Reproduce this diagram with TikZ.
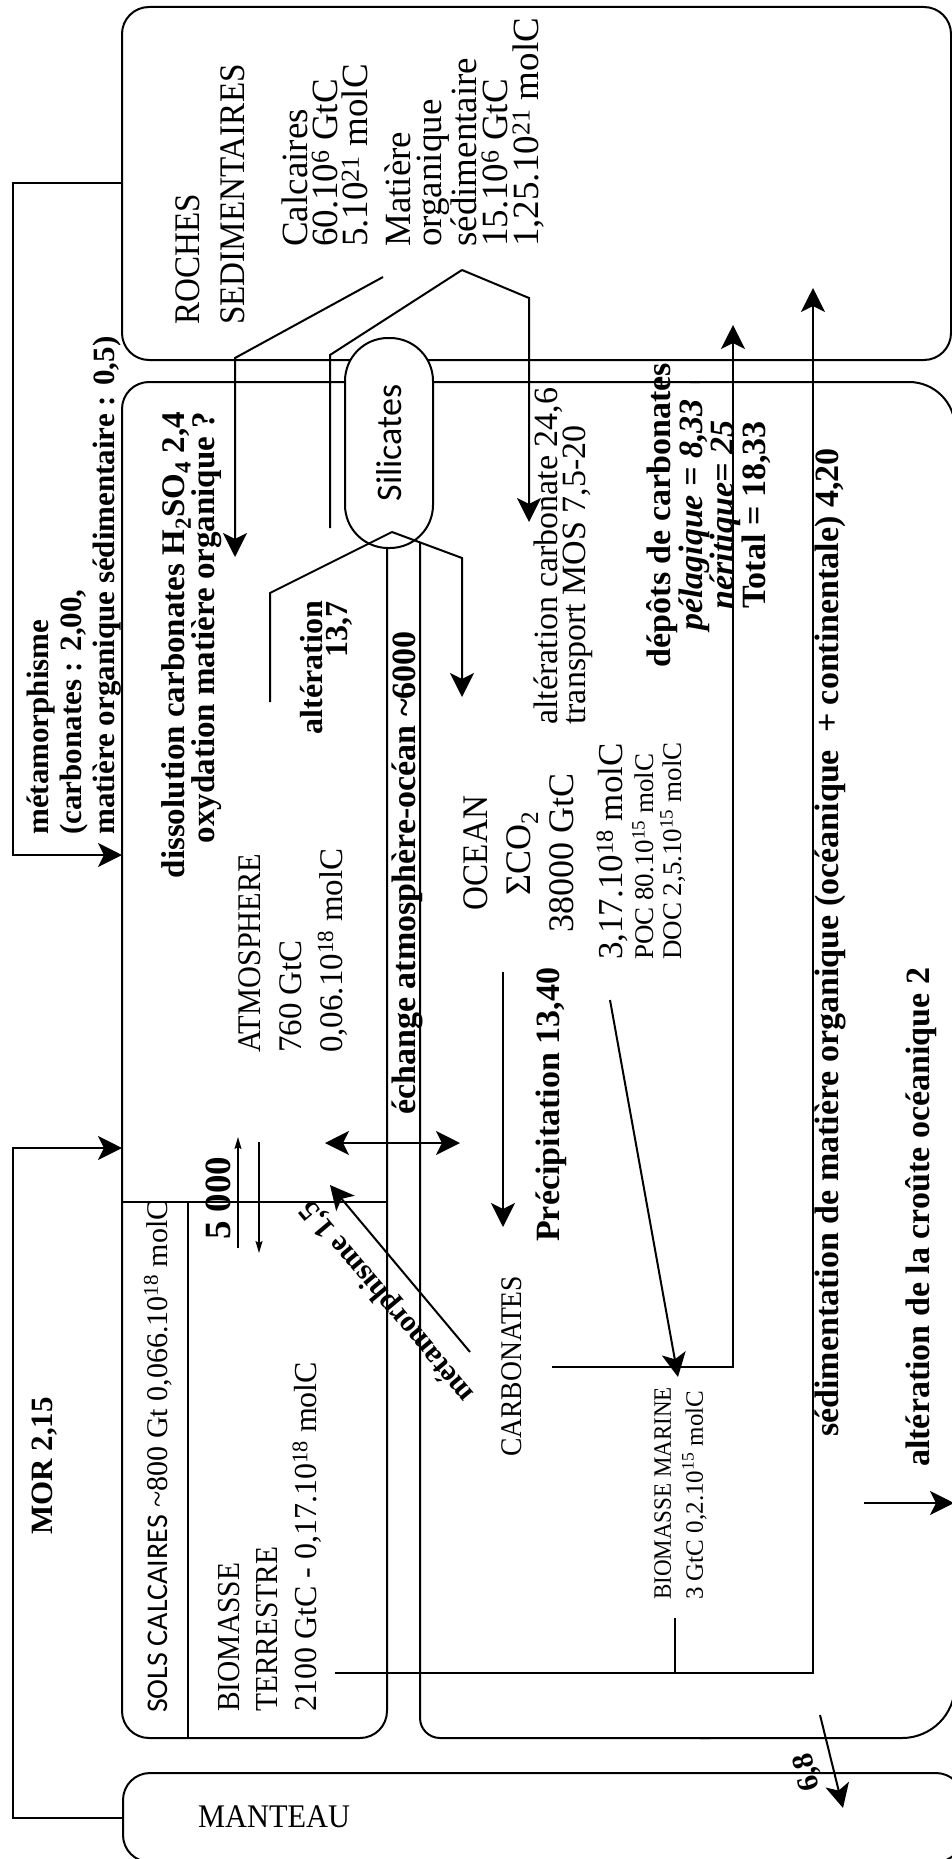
\documentclass[tikz,border=0pt]{standalone}
\usepackage{fontspec}
\setmainfont{Liberation Serif}
\newfontfamily\condfont{Liberation Serif}[FakeStretch=0.92]
\newfontfamily\carlito{Carlito}
\usetikzlibrary{arrows.meta}
\newcommand\fsz[2]{\fontsize{#1}{#2}\selectfont}

\begin{document}
\begin{tikzpicture}[x=1pt, y=-1pt,
  >={Stealth[length=24pt, width=24pt, inset=6pt]},
  thickline/.style={line width=2pt},
  flow/.style={line width=2pt, ->},
  small flow/.style={line width=1.5pt, -{Stealth[length=12pt, width=7pt, inset=2pt]}},
  box/.style={draw, line width=2pt, rounded corners=27pt, inner sep=0pt},
  vtext/.style={rotate=90, inner sep=0pt}]

  \path[use as bounding box, fill=white] (0,0) rectangle (952,1859);

  % reservoirs
  \node[box, minimum width=829pt, minimum height=353pt] (roches) at (536.5,183.5) {};
  \node[box, minimum width=840pt, minimum height=89pt] (manteau) at (543,1817.5) {};

  \draw[thickline, rounded corners=27pt] (387,548) -- (387,1738) -- (122,1738) -- (122,382) -- (700,382);
  \draw[thickline, rounded corners=46pt] (690,382) -- (955,382) -- (955,1100);
  \draw[thickline, rounded corners=53pt] (955,1090) -- (955,1738) -- (700,1738);
  \draw[thickline, rounded corners=20pt] (710,1738) -- (420,1738) -- (420,542);
  \draw[thickline] (122,1202) -- (387,1202);
  \draw[thickline] (188,1202) -- (188,1738);

  \node[draw, thickline, fill=white, rotate=90, minimum width=210pt, minimum height=88pt,
        rounded corners=43pt, inner sep=0pt, font=\carlito\fsz{36}{36}] (silicates) at (389,443) {Silicates};

  % texts
  \node[vtext, anchor=north west, align=left, font=\condfont\fsz{36}{45}] (rochestxt) at (175,325) {ROCHES\\SEDIMENTAIRES};
  \node[vtext, anchor=north west, align=left, font=\fsz{37}{30}] (calc) at (282,247)
    {Calcaires\\60.10\textsuperscript{6} GtC\\5.10\textsuperscript{21} molC};
  \node[vtext, anchor=north west, align=left, font=\fsz{37}{31}] (mos) at (385,247)
    {Matière\\organique\\sédimentaire\\15.10\textsuperscript{6} GtC\\1,25.10\textsuperscript{21} molC};
  \node[vtext, anchor=north west, align=left, font=\bfseries\fsz{31}{33}] (metatxt) at (27,835)
    {métamorphisme\\(carbonates : 2,00,\\matière organique sédimentaire : 0,5)};
  \node[vtext, anchor=north east, align=right, font=\bfseries\fsz{33}{29}] (disstxt) at (161,412)
    {dissolution carbonates H\textsubscript{2}SO\textsubscript{4} 2,4\\oxydation matière organique ?};
  \node[vtext, anchor=north east, align=right, font=\bfseries\fsz{32}{25}] (alttxt) at (300,601) {altération\\13,7};
  \node[vtext, anchor=north west, align=left, font=\fsz{33}{41}] (atm) at (238,1053)
    {{\condfont ATMOSPHERE}\\760 GtC\\0,06.10\textsuperscript{18} molC};
  \node[vtext, anchor=base west, font=\bfseries\fsz{34}{34}] (echtxt) at (415,1115) {échange atmosphère-océan \textasciitilde 6000};
  \node[vtext, anchor=base west, font=\bfseries\fsz{37}{37}] (cinqtxt) at (230,1240) {5 000};
  \node[vtext, anchor=base west, font=\fsz{30}{30}] (sols) at (167,1713)
    {{\carlito SOLS CALCAIRES} \textasciitilde 800 Gt 0,066.10\textsuperscript{18} molC};
  \node[vtext, anchor=north west, align=left, font=\fsz{32}{38.5}] (bioter) at (218,1712)
    {{\condfont BIOMASSE}\\{\condfont TERRESTRE}\\2100 GtC - 0,17.10\textsuperscript{18} molC};
  \node[vtext, anchor=base west, font=\bfseries\fsz{31}{31}] (mortxt) at (52,1535) {MOR 2,15};
  \node[anchor=base west, inner sep=0pt, font=\condfont\fsz{33}{33}] (mantxt) at (198,1827) {MANTEAU};
  \node[vtext, anchor=north, align=center, font=\fsz{36}{43}] (ocean) at (463,853)
    {{\condfont OCEAN}\\ΣCO\textsubscript{2}\\38000 GtC};
  \node[vtext, anchor=base west, font=\fsz{35}{35}] (oceanmol) at (622,960) {3,17.10\textsuperscript{18} molC};
  \node[vtext, anchor=north west, align=left, font=\fsz{27}{28}] (oceandoc) at (632,960)
    {POC 80.10\textsuperscript{15} molC\\DOC 2,5.10\textsuperscript{15} molC};
  \node[vtext, anchor=north west, align=left, font=\fsz{34}{28}] (altcarb) at (534,725)
    {altération carbonate 24,6\\transport MOS 7,5-20};
  \node[vtext, anchor=north, align=center, font=\bfseries\fsz{34}{29}] (depots) at (646,515)
    {dépôts de carbonates\\\textit{pélagique = 8,33}\\\textit{néritique= 25}\\Total = 18,33};
  \node[vtext, anchor=base west, font=\bfseries\fsz{34}{34}] (prectxt) at (559,1242) {Précipitation 13,40};
  \node[vtext, anchor=base west, font=\condfont\fsz{30}{30}] (carb) at (521,1457) {CARBONATES};
  \node[vtext, anchor=north west, align=left, font=\fsz{25}{32}] (biomar) at (654,1600)
    {{\condfont BIOMASSE MARINE}\\3 GtC 0,2.10\textsuperscript{15} molC};
  \node[vtext, anchor=base west, font=\bfseries\fsz{34}{34}] (sedtxt) at (838,1437)
    {sédimentation de matière organique (océanique\ \ + continentale) 4,20};
  \node[vtext, anchor=base west, font=\bfseries\fsz{34}{34}] (crotxt) at (929,1467) {altération de la croûte océanique 2};
  \node[rotate=130, inner sep=0pt, font=\bfseries\fsz{30}{30}] (meta2txt) at (388,1301) {métamorphisme 1,5};
  \node[rotate=104, inner sep=0pt, font=\bfseries\fsz{30}{30}] (mantflux) at (808,1772) {6,8};

  % flux end points
  \coordinate (atmW) at (122,855);
  \coordinate (atmS) at (122,1148);
  \coordinate (dissA) at (383,277);
  \coordinate (orgA) at (462,270);
  \coordinate (silA) at (392,532);
  \coordinate (echA) at (325,1143);
  \coordinate (echB) at (460,1143);
  \coordinate (precA) at (503,972);
  \coordinate (precB) at (503,1227);
  \coordinate (pocA) at (610,1000);
  \coordinate (pocB) at (678,1377);
  \coordinate (carbA) at (552,1367);
  \coordinate (depB) at (733,325);
  \coordinate (bioT) at (335,1673);
  \coordinate (bioM) at (675,1618);
  \coordinate (sedB) at (813,288);
  \coordinate (metA) at (470,1352);
  \coordinate (metB) at (330,1185);
  \coordinate (upA) at (238,1248);
  \coordinate (upB) at (238,1137);
  \coordinate (dnA) at (259,1142);
  \coordinate (dnB) at (259,1253);
  \coordinate (manA) at (820,1715);
  \coordinate (manB) at (843,1808);
  \coordinate (croA) at (864,1503);
  \coordinate (croB) at (954,1503);

  % fluxes
  \draw[flow] (roches.west) -- ++(-108,0) |- (atmW);
  \draw[flow] (manteau.west) -- ++(-109,0) |- (atmS);
  \draw[flow] (dissA) -- ++(-148,81) -- ++(0,199);
  \draw[thickline] (orgA) -- ++(-132,85) -- ++(0,173);
  \draw[flow] (orgA) -- ++(67,28) -- ++(0,224);
  \draw[thickline] (silA) -- ++(-122,61) -- ++(0,109);
  \draw[flow] (silA) -- ++(70,26) -- ++(0,139);
  \draw[thickline, <->] (echA) -- (echB);
  \draw[flow] (precA) -- (precB);
  \draw[flow] (pocA) -- (pocB);
  \draw[flow] (carbA) -| (depB);
  \draw[flow] (bioT) -| (sedB);
  \draw[thickline] (bioM) -- (bioM |- bioT);
  \draw[flow] (metA) -- (metB);
  \draw[small flow] (upA) -- (upB);
  \draw[small flow] (dnA) -- (dnB);
  \draw[flow] (manA) -- (manB);
  \draw[flow] (croA) -- (croB);
\end{tikzpicture}
\end{document}
